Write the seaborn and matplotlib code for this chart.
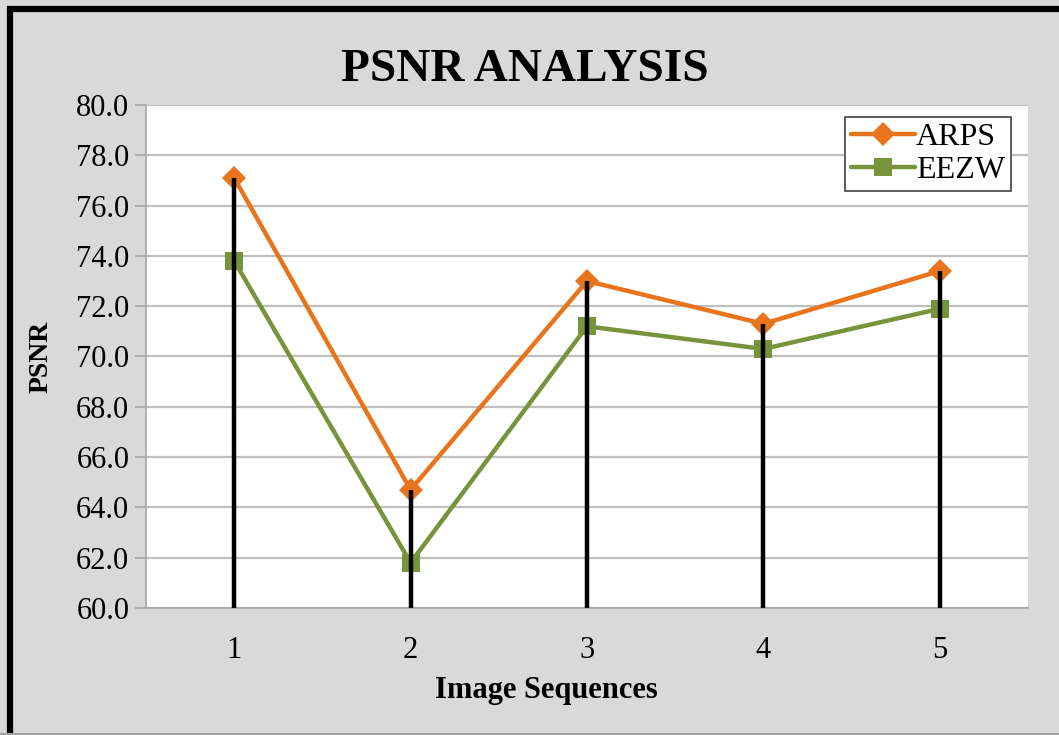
import matplotlib
matplotlib.use("Agg")
import matplotlib.pyplot as plt
import matplotlib.lines as mlines
import seaborn as sns
import pandas as pd

sequences = [1, 2, 3, 4, 5]
arps = [77.1, 64.7, 73.0, 71.3, 73.4]
eezw = [73.8, 61.8, 71.2, 70.3, 71.9]
yticks = [60, 62, 64, 66, 68, 70, 72, 74, 76, 78, 80]

sns.set_theme(style="white")
plt.rcParams['font.family'] = ['Liberation Serif', 'DejaVu Serif']
plt.rcParams['text.color'] = 'black'
plt.rcParams['axes.labelcolor'] = 'black'
plt.rcParams['xtick.color'] = 'black'
plt.rcParams['ytick.color'] = 'black'

W, H = 1059, 735
fig = plt.figure(figsize=(W / 100, H / 100), dpi=100, facecolor="#d9d9d9")
ax = fig.add_axes([146 / W, 1 - 608 / H, (1028 - 146) / W, (608 - 105) / H])
ax.set_facecolor("white")

df = pd.DataFrame({"seq": sequences * 2,
                   "val": arps + eezw,
                   "series": ["ARPS"] * 5 + ["EEZW"] * 5})

ax.set_ylim(60, 80)
ax.set_xlim(0.5, 5.5)
ax.set_yticks(yticks)
ax.set_yticklabels([f"{v:.1f}" for v in yticks])
ax.set_xticks(sequences)
ax.set_xticklabels([str(s) for s in sequences])
ax.grid(axis="y", color="#bfbfbf", linewidth=1.6, zorder=0)
ax.set_axisbelow(True)

sns.lineplot(data=df, x="seq", y="val", hue="series", style="series",
             markers={"ARPS": "D", "EEZW": "s"}, dashes=False,
             palette={"ARPS": "#E8741C", "EEZW": "#77933C"},
             linewidth=3.2, markersize=12, markeredgewidth=0, ax=ax, zorder=3)
for line in ax.lines:
    if line.get_marker() == "D":
        line.set_markersize(12)
    elif line.get_marker() == "s":
        line.set_markersize(13)

tops = [max(a, e) for a, e in zip(arps, eezw)]
ax.vlines(sequences, 60, tops, colors="black", linewidth=3.2, zorder=4)

for s in ["top", "right"]:
    ax.spines[s].set_visible(False)
for s in ["left", "bottom"]:
    ax.spines[s].set_color("#a6a6a6")
    ax.spines[s].set_linewidth(1.2)
ax.tick_params(axis="y", which="major", left=True, length=8, width=1.2,
               color="#a6a6a6", labelcolor="black", labelsize=22, pad=4)
ax.tick_params(axis="x", which="major", bottom=False, labelcolor="black",
               labelsize=22, pad=14)

ax.set_xlabel("Image Sequences", fontsize=22, fontweight="bold", labelpad=12)
ax.xaxis.set_label_coords((546 - 146) / (1028 - 146), -0.135)
ax.set_ylabel("PSNR", fontsize=20, fontweight="bold", labelpad=16)
fig.text(525 / W, 1 - 70 / H, "PSNR ANALYSIS", fontsize=34, fontweight="bold",
         ha="center", va="center")

handles, labels = ax.get_legend_handles_labels()
leg = ax.legend(handles=handles, labels=labels, loc="upper right",
                bbox_to_anchor=(0.981, 0.977), fontsize=23, frameon=True,
                fancybox=False, edgecolor="#404040", framealpha=1,
                handlelength=2.0, handletextpad=0.02, borderpad=0.2,
                labelspacing=0.1, borderaxespad=0)
leg.get_frame().set_linewidth(1.2)

# figure border (black left and top, thin gray bottom)
fig.add_artist(mlines.Line2D([10 / W, 10 / W], [0, 1 - 6 / H], color="black",
                             linewidth=4.5, solid_capstyle="butt",
                             transform=fig.transFigure))
fig.add_artist(mlines.Line2D([7 / W, 1], [1 - 9 / H, 1 - 9 / H], color="black",
                             linewidth=4.5, solid_capstyle="butt",
                             transform=fig.transFigure))
fig.add_artist(mlines.Line2D([0, 1], [1 / H, 1 / H], color="#a0a0a0",
                             linewidth=1.5, transform=fig.transFigure))

fig.savefig("out.png", dpi=100, facecolor=fig.get_facecolor())
